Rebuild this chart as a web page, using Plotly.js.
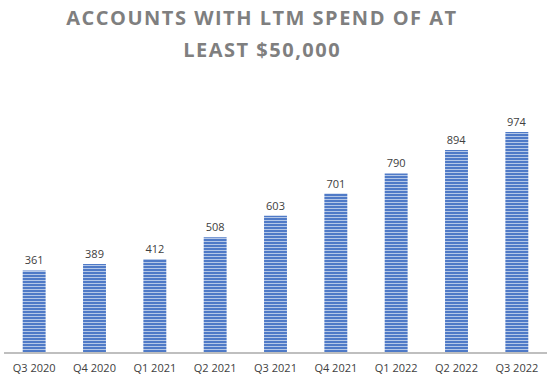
<!DOCTYPE html>
<html>
<head>
<meta charset="utf-8">
<script src="https://cdn.plot.ly/plotly-3.0.1.min.js"></script>
<style>
html,body{margin:0;padding:0;background:#fff;}
#chart{width:550px;height:383px;}
#chart .annotation-text{letter-spacing:1.5px;}
</style>
</head>
<body>
<div id="chart"></div>
<script>
const quarters = ["Q3 2020","Q4 2020","Q1 2021","Q2 2021","Q3 2021","Q4 2021","Q1 2022","Q2 2022","Q3 2022"];
const accounts = [361, 389, 412, 508, 603, 701, 790, 894, 974];
const titleLines = ["ACCOUNTS WITH LTM SPEND OF AT", "LEAST $50,000"];

const trace = {
  type: "bar",
  x: quarters,
  y: accounts,
  text: accounts.map(String),
  textposition: "outside",
  cliponaxis: false,
  textfont: {family: "Open Sans, sans-serif", size: 11, color: "#404040"},
  marker: {
    color: "#4472C4",
    pattern: {shape: "-", fgcolor: "#B4C7E7", bgcolor: "#4472C4", size: 3, solidity: 0.4},
    line: {width: 0}
  },
  hoverinfo: "skip"
};

const titleFont = {family: "Open Sans, sans-serif", size: 20, color: "#7F7F7F", weight: "bold"};
const plotLeft = 4, plotRight = 547, plotTop = 126, plotBottom = 352, plotH = plotBottom - plotTop;
const linePx = [18, 49];
const titleCenterPx = 262;

const layout = {
  width: 550, height: 383,
  margin: {l: plotLeft, r: 550 - plotRight, t: plotTop, b: 383 - plotBottom},
  paper_bgcolor: "#ffffff",
  plot_bgcolor: "#ffffff",
  bargap: 0.62,
  showlegend: false,
  annotations: titleLines.map((t, i) => ({
    text: t,
    xref: "paper", yref: "paper",
    x: (titleCenterPx - plotLeft) / (plotRight - plotLeft), xanchor: "center",
    y: (plotBottom - linePx[i]) / plotH, yanchor: "middle",
    showarrow: false,
    font: titleFont
  })),
  xaxis: {
    showgrid: false,
    showline: true, linecolor: "#BFBFBF", linewidth: 1.5,
    ticks: "",
    ticklabelstandoff: 5,
    tickfont: {family: "Open Sans, sans-serif", size: 11, color: "#404040"},
    fixedrange: true
  },
  yaxis: {
    range: [0, 1000],
    visible: false,
    showgrid: false,
    zeroline: false,
    fixedrange: true
  }
};

Plotly.newPlot("chart", [trace], layout, {displayModeBar: false, staticPlot: true});
</script>
</body>
</html>
